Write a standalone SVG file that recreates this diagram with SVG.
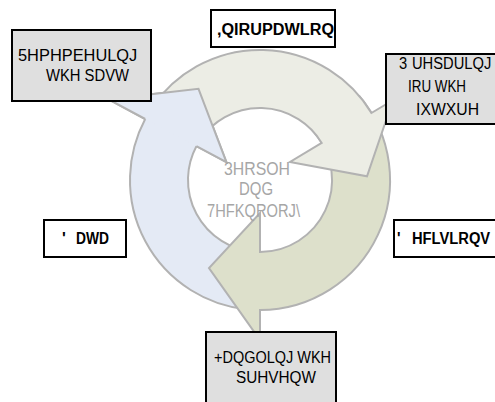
<svg xmlns="http://www.w3.org/2000/svg" width="495" height="402" viewBox="0 0 495 402">
  <style>
    .ring { stroke: #b2b2b2; stroke-width: 2; stroke-linejoin: miter; }
    .blue { fill: #e4eaf5; }
    .beige { fill: #ecede5; }
    .green { fill: #dde0cb; }
    .box { stroke: #000; stroke-width: 2; }
    .plain { fill: #ffffff; }
    .grey { fill: #dfdfdf; }
    .lbl { font-family: "Liberation Sans", Arial, sans-serif; font-size: 16px; fill: #000; }
    .b { font-weight: bold; }
    .ctr { font-family: "Liberation Sans", Arial, sans-serif; font-size: 18px; fill: #a6a6a6; }
  </style>

  <!-- three curved arrows around a common centre (260,180), ring radii 72..130 -->
  <g id="cycle">
    <!-- left arrow: bottom up to the top-left -->
    <path class="ring blue" d="M246.4 309.3 A130 130 0 0 1 145.2 119 L108.1 99.2 L198.5 88.8 L226.4 162.2 L196.4 146.2 A72 72 0 0 0 252.5 251.6 Z"/>
    <!-- right-lower arrow: right side down to the bottom -->
    <path class="ring green" d="M359.6 96.4 A130 130 0 0 1 260 310 L260 340 L209 268 L260 213 L260 252 A72 72 0 0 0 315.2 133.7 Z"/>
    <!-- top arrow: top-left over to the right -->
    <path class="ring beige" d="M152.2 107.3 A130 130 0 0 1 371.4 113 L392.9 100.2 L367 176.3 L290 162 L321.7 142.9 A72 72 0 0 0 200.3 139.7 Z"/>
    <!-- head of the left arrow lies over the tail of the top arrow -->
    <path class="blue" d="M145.2 119 L108.1 99.2 L198.5 88.8 L226.4 162.2 L196.4 146.2 Z"/>
    <path class="ring" fill="none" d="M145.2 119 L108.1 99.2 L198.5 88.8 L226.4 162.2 L196.4 146.2"/>
  </g>

  <g id="center">
    <text class="ctr" x="224" y="175" textLength="66" lengthAdjust="spacingAndGlyphs">3HRSOH</text>
    <text class="ctr" x="239" y="195" textLength="34" lengthAdjust="spacingAndGlyphs">DQG</text>
    <text class="ctr" x="207" y="217" textLength="93" lengthAdjust="spacingAndGlyphs">7HFKQRORJ\</text>
  </g>

  <g id="information">
    <rect class="box plain" x="211" y="10" width="124" height="37"/>
    <text class="lbl b" x="217" y="35" textLength="117" lengthAdjust="spacingAndGlyphs">,QIRUPDWLRQ</text>
  </g>

  <g id="remembering">
    <rect class="box grey" x="12" y="30" width="139" height="71"/>
    <!-- widened by a horizontal scale to fill the box -->
    <text class="lbl" font-size="17" transform="translate(18 61) scale(1.025 1)">5HPHPEHULQJ</text>
    <text class="lbl" x="46" y="81" textLength="83" lengthAdjust="spacingAndGlyphs">WKH SDVW</text>
  </g>

  <g id="preparing">
    <rect class="box grey" x="386" y="54" width="130" height="70"/>
    <!-- narrowed by a horizontal scale so the line stays inside the canvas -->
    <text class="lbl" transform="translate(399 69) scale(0.92 1)"><tspan x="0">3</tspan><tspan x="14.1">UHSDULQJ</tspan></text>
    <text class="lbl" x="408" y="92" textLength="58" lengthAdjust="spacingAndGlyphs">IRU WKH</text>
    <text class="lbl" x="416" y="115" textLength="63" lengthAdjust="spacingAndGlyphs">IXWXUH</text>
  </g>

  <g id="data">
    <rect class="box plain" x="44" y="220" width="82" height="37"/>
    <text class="lbl b" y="244"><tspan x="62">'</tspan><tspan x="76" textLength="33" lengthAdjust="spacingAndGlyphs">DWD</tspan></text>
  </g>

  <g id="decisions">
    <rect class="box plain" x="394" y="220" width="120" height="37"/>
    <text class="lbl b" transform="translate(397 244) scale(0.92 1)"><tspan x="0">'</tspan><tspan x="16.3">HFLVLRQV</tspan></text>
  </g>

  <g id="handling">
    <rect class="box grey" x="206" y="332" width="130" height="80"/>
    <text class="lbl" x="214" y="363" textLength="117" lengthAdjust="spacingAndGlyphs">+DQGOLQJ WKH</text>
    <text class="lbl" x="236" y="383" textLength="80" lengthAdjust="spacingAndGlyphs">SUHVHQW</text>
  </g>
</svg>
